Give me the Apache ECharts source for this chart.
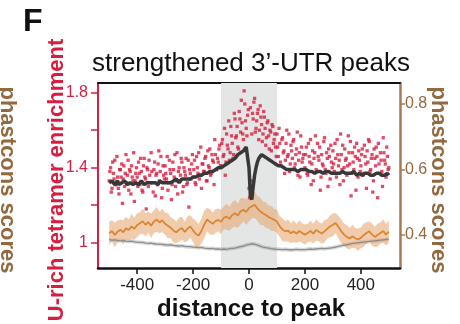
<!DOCTYPE html>
<html lang="en">
<head>
<meta charset="UTF-8">
<title>strengthened 3'-UTR peaks</title>
<style>
    html, body { margin: 0; padding: 0; background: #fff; }
    #main { width: 460px; height: 324px; }
</style>
</head>
<body>
<div id="main"></div>
<script src="https://cdn.jsdelivr.net/npm/echarts@6/dist/echarts.min.js"></script>
<script>
    // ticks and labels
    const xTicks = [-400, -200, 0, 200, 400]
    const leftTicks = [1, 1.2, 1.4, 1.6, 1.8]
    const leftLabels = [1, 1.4, 1.8]
    const rightTicks = [0.4, 0.6, 0.8]
    const shadeRange = [-100, 100]

    // U-rich tetramer enrichment, red dots, every 5 nt from -500 (redA) and from -497.5 (redB)
    const redA = [
        1.33,1.40,1.29,1.37,1.44,1.31,1.35,1.26,1.39,1.42,1.34,1.30,1.47,1.36,1.28,1.38,1.41,1.33,1.22,1.37,
        1.35,1.43,1.31,1.38,1.27,1.45,1.34,1.40,1.30,1.36,1.48,1.32,1.39,1.25,1.37,1.42,1.33,1.46,1.29,1.36,
        1.41,1.34,1.28,1.44,1.37,1.31,1.39,1.47,1.33,1.26,1.40,1.36,1.43,1.30,1.38,1.45,1.32,1.19,1.37,1.42,
        1.35,1.44,1.31,1.40,1.48,1.36,1.29,1.42,1.38,1.46,1.33,1.41,1.50,1.37,1.44,1.31,1.47,1.39,1.43,1.52,
        1.41,1.55,1.47,1.36,1.58,1.50,1.44,1.62,1.53,1.47,1.66,1.57,1.51,1.70,1.59,1.64,1.55,1.74,1.61,1.68,
        1.29,1.72,1.58,1.66,1.77,1.61,1.69,1.55,1.73,1.63,1.58,1.67,1.52,1.64,1.57,1.60,1.49,1.62,1.55,1.51,
        1.58,1.46,1.53,1.41,1.56,1.49,1.44,1.60,1.47,1.38,1.52,1.45,1.55,1.42,1.50,1.36,1.48,1.57,1.43,1.47,
        1.40,1.51,1.36,1.46,1.55,1.42,1.33,1.48,1.39,1.53,1.44,1.28,1.47,1.41,1.56,1.37,1.45,1.50,1.34,1.43,
        1.49,1.38,1.45,1.55,1.41,1.31,1.47,1.52,1.40,1.44,1.36,1.57,1.42,1.25,1.48,1.39,1.46,1.53,1.35,1.44,
        1.41,1.50,1.37,1.46,1.29,1.43,1.54,1.39,1.47,1.33,1.45,1.51,1.24,1.42,1.48,1.38,1.56,1.44,1.35,1.46,
        1.40
    ]
    const redB = [
        1.38,1.27,1.43,1.34,1.31,1.46,1.29,1.39,1.35,1.21,1.41,1.37,1.32,1.44,1.39,1.26,1.35,1.48,1.33,1.40,
        1.30,1.37,1.45,1.28,1.41,1.35,1.18,1.39,1.44,1.32,1.38,1.27,1.43,1.36,1.31,1.49,1.38,1.24,1.41,1.34,
        1.37,1.46,1.32,1.39,1.23,1.43,1.35,1.30,1.48,1.38,1.33,1.45,1.27,1.40,1.36,1.31,1.44,1.39,1.34,1.47,
        1.39,1.32,1.46,1.37,1.34,1.51,1.42,1.38,1.45,1.33,1.49,1.40,1.36,1.47,1.43,1.55,1.39,1.45,1.50,1.41,
        1.53,1.46,1.61,1.43,1.52,1.65,1.48,1.57,1.45,1.69,1.56,1.62,1.50,1.66,1.76,1.58,1.81,1.65,1.57,1.71,
        1.24,1.33,1.69,1.75,1.59,1.65,1.71,1.60,1.67,1.54,1.70,1.61,1.56,1.65,1.50,1.59,1.63,1.53,1.58,1.46,
        1.51,1.61,1.43,1.55,1.48,1.37,1.53,1.46,1.58,1.42,1.49,1.54,1.40,1.47,1.59,1.44,1.35,1.51,1.45,1.39,
        1.47,1.37,1.53,1.43,1.31,1.49,1.45,1.57,1.38,1.46,1.51,1.35,1.42,1.54,1.39,1.48,1.30,1.46,1.52,1.40,
        1.42,1.53,1.35,1.47,1.44,1.58,1.39,1.33,1.50,1.45,1.41,1.48,1.54,1.37,1.43,1.51,1.28,1.45,1.49,1.38,
        1.47,1.36,1.52,1.42,1.49,1.55,1.38,1.45,1.27,1.50,1.41,1.46,1.53,1.37,1.44,1.30,1.48,1.42,1.51,1.39
    ]
    // dark trace, every 5 nt from -500
    const blackDots = [
        1.32,1.31,1.33,1.32,1.31,1.32,1.33,1.31,1.32,1.32,1.31,1.33,1.32,1.31,1.32,1.32,1.33,1.31,1.32,1.32,
        1.32,1.31,1.32,1.33,1.32,1.31,1.32,1.32,1.33,1.32,1.31,1.32,1.33,1.32,1.32,1.31,1.33,1.32,1.32,1.33,
        1.32,1.33,1.32,1.33,1.32,1.33,1.33,1.32,1.34,1.33,1.32,1.33,1.34,1.33,1.34,1.33,1.34,1.35,1.34,1.34,
        1.35,1.34,1.35,1.35,1.36,1.35,1.36,1.36,1.37,1.36,1.37,1.37,1.38,1.37,1.38,1.38,1.39,1.39,1.40,1.40,
        1.40,1.41,1.41,1.42,1.42,1.43,1.43,1.44,1.44,1.45,1.45,1.46,1.47,1.47,1.48,1.48,1.49,1.50,1.51,1.52,
        1.40,1.25,1.23,1.30,1.36,1.40,1.43,1.45,1.46,1.47,1.47,1.46,1.46,1.45,1.45,1.44,1.44,1.43,1.43,1.42,
        1.42,1.41,1.41,1.41,1.40,1.40,1.40,1.39,1.40,1.39,1.39,1.39,1.40,1.39,1.39,1.38,1.39,1.39,1.38,1.39,
        1.38,1.39,1.38,1.38,1.39,1.38,1.38,1.37,1.38,1.38,1.39,1.38,1.38,1.37,1.38,1.38,1.37,1.38,1.38,1.37,
        1.38,1.37,1.38,1.37,1.38,1.37,1.37,1.38,1.37,1.37,1.38,1.37,1.36,1.37,1.37,1.38,1.37,1.36,1.37,1.37,
        1.37,1.36,1.37,1.37,1.36,1.37,1.37,1.36,1.37,1.36,1.36,1.37,1.36,1.37,1.36,1.36,1.37,1.36,1.36,1.37,
        1.36
    ]

    // phastcons scores, every 10 nt from -500
    const orangeMean = [
        0.405,0.412,0.400,0.410,0.416,0.408,0.420,0.415,0.426,0.419,
        0.430,0.436,0.442,0.431,0.439,0.428,0.441,0.447,0.438,0.445,
        0.434,0.428,0.422,0.413,0.408,0.416,0.421,0.409,0.419,0.426,
        0.414,0.403,0.398,0.412,0.432,0.447,0.440,0.434,0.442,0.446,
        0.440,0.452,0.456,0.449,0.461,0.466,0.459,0.472,0.477,0.470,
        0.482,0.487,0.492,0.481,0.472,0.466,0.461,0.455,0.450,0.446,
        0.441,0.426,0.416,0.411,0.413,0.405,0.411,0.404,0.412,0.406,
        0.401,0.406,0.412,0.404,0.415,0.410,0.404,0.411,0.419,0.426,
        0.431,0.436,0.424,0.411,0.401,0.394,0.389,0.396,0.390,0.386,
        0.391,0.399,0.406,0.411,0.401,0.394,0.400,0.406,0.412,0.401,
        0.410
    ]
    const orangeHalf = [
        0.036,0.033,0.038,0.034,0.031,0.037,0.035,0.032,0.038,0.034,
        0.036,0.033,0.039,0.035,0.032,0.037,0.034,0.038,0.033,0.036,
        0.034,0.038,0.032,0.036,0.033,0.037,0.035,0.031,0.038,0.034,
        0.036,0.040,0.035,0.038,0.042,0.036,0.039,0.034,0.037,0.035,
        0.038,0.035,0.040,0.036,0.039,0.041,0.037,0.040,0.036,0.039,
        0.041,0.037,0.040,0.038,0.042,0.036,0.039,0.035,0.038,0.034,
        0.036,0.032,0.035,0.031,0.034,0.030,0.033,0.029,0.032,0.030,
        0.031,0.028,0.032,0.030,0.033,0.029,0.031,0.034,0.030,0.033,
        0.035,0.031,0.034,0.037,0.033,0.036,0.032,0.035,0.031,0.034,
        0.032,0.036,0.033,0.030,0.034,0.031,0.035,0.032,0.036,0.033,
        0.034
    ]
    const grayMean = [
        0.386,0.384,0.385,0.383,0.382,0.383,0.381,0.380,0.381,0.379,
        0.378,0.377,0.377,0.375,0.374,0.375,0.373,0.372,0.372,0.371,
        0.370,0.369,0.370,0.368,0.367,0.366,0.367,0.365,0.364,0.364,
        0.363,0.362,0.361,0.362,0.360,0.359,0.358,0.359,0.357,0.357,
        0.356,0.357,0.356,0.358,0.359,0.360,0.362,0.364,0.366,0.369,
        0.371,0.373,0.372,0.369,0.366,0.363,0.361,0.360,0.358,0.357,
        0.356,0.356,0.355,0.356,0.355,0.354,0.355,0.356,0.355,0.355,
        0.355,0.356,0.357,0.356,0.357,0.358,0.359,0.358,0.359,0.360,
        0.361,0.363,0.365,0.367,0.369,0.370,0.372,0.374,0.375,0.376,
        0.377,0.378,0.379,0.380,0.381,0.382,0.383,0.384,0.385,0.386,
        0.387
    ]
    const grayHalf = 0.006

    const RED = '#d81e3f'
    const BROWN = '#a57d52'
    const BROWN_TEXT = '#93693f'
    const FONT = '"Liberation Sans", Arial, Helvetica, sans-serif'

    // pair values with their position along the x axis
    function atStep(start, step, values) {
        return values.map((v, i) => [start + step * i, v])
    }

    const redPoints = atStep(-500, 5, redA).concat(atStep(-497.5, 5, redB))
    const blackPoints = atStep(-500, 5, blackDots)
    const orangeLine = atStep(-500, 10, orangeMean)
    const orangeLo = atStep(-500, 10, orangeMean.map((v, i) => v - orangeHalf[i]))
    const orangeHi = atStep(-500, 10, orangeMean.map((v, i) => v + orangeHalf[i]))
    const grayLine = atStep(-500, 10, grayMean)
    const grayLo = atStep(-500, 10, grayMean.map(v => v - grayHalf))
    const grayHi = atStep(-500, 10, grayMean.map(v => v + grayHalf))

    // filled band between two curves, drawn through the axes
    function band(lower, upper, fill) {
        return {
            type: 'custom',
            yAxisIndex: 1,
            silent: true,
            z: 3,
            data: [[0, 0.4]],
            renderItem: function (params, api) {
                let pts = upper.map(p => api.coord(p))
                for (let i = lower.length - 1; i >= 0; i--) {
                    pts.push(api.coord(lower[i]))
                }
                return {type: 'polygon', shape: {points: pts}, style: {fill: fill}}
            }
        }
    }

    let chart = echarts.init(document.getElementById('main'))
    let option = {
        animation: false,
        grid: {left: 98, right: 60, top: 83, bottom: 56},
        graphic: [
            {type: 'text', x: 23, y: 22,
                style: {text: 'F', font: 'bold 32px ' + FONT, fill: '#111', align: 'left', verticalAlign: 'middle'}},
            {type: 'text', x: 251, y: 64,
                style: {text: 'strengthened 3’-UTR peaks', font: '26px ' + FONT, fill: '#111', align: 'center', verticalAlign: 'middle'}},
            {type: 'text', x: 251, y: 309,
                style: {text: 'distance to peak', font: 'bold 24px ' + FONT, fill: '#111', align: 'center', verticalAlign: 'middle'}},
            {type: 'text', x: 57, y: 180, rotation: Math.PI / 2,
                style: {text: 'U-rich tetramer enrichment', font: 'bold 22px ' + FONT, fill: RED, align: 'center', verticalAlign: 'middle'}},
            {type: 'text', x: 438, y: 180, rotation: -Math.PI / 2,
                style: {text: 'phastcons scores', font: 'bold 22px ' + FONT, fill: BROWN_TEXT, align: 'center', verticalAlign: 'middle'}},
            {type: 'text', x: 7, y: 180, rotation: -Math.PI / 2,
                style: {text: 'phastcons scores', font: 'bold 22px ' + FONT, fill: BROWN_TEXT, align: 'center', verticalAlign: 'middle'}}
        ],
        xAxis: [
            {
                type: 'value', min: -540, max: 540, position: 'bottom',
                axisLine: {onZero: false, lineStyle: {color: '#111', width: 2.5}},
                axisTick: {customValues: xTicks, length: 6, lineStyle: {color: '#111', width: 1.5}},
                axisLabel: {customValues: xTicks, fontSize: 17, color: '#222', margin: 9, fontFamily: FONT},
                splitLine: {show: false}
            },
            {
                type: 'value', min: -540, max: 540, position: 'top',
                axisLine: {onZero: false, lineStyle: {color: '#111', width: 2}},
                axisTick: {show: false}, axisLabel: {show: false}, splitLine: {show: false}
            }
        ],
        yAxis: [
            {
                type: 'value', min: 0.865, max: 1.852, position: 'left',
                axisLine: {show: true, onZero: false, lineStyle: {color: RED, width: 2}},
                axisTick: {show: true, customValues: leftTicks, length: 7, lineStyle: {color: RED, width: 1.5}},
                axisLabel: {customValues: leftLabels, fontSize: 16, color: RED, margin: 10, fontFamily: FONT,
                    formatter: v => v === 1 ? '1' : v.toFixed(1)},
                splitLine: {show: false}
            },
            {
                type: 'value', min: 0.299, max: 0.864, position: 'right',
                axisLine: {show: true, onZero: false, lineStyle: {color: BROWN, width: 2.5}},
                axisTick: {show: true, customValues: rightTicks, length: 5, lineStyle: {color: BROWN, width: 1.5}},
                axisLabel: {customValues: rightTicks, fontSize: 16, color: BROWN_TEXT, margin: 5, fontFamily: FONT,
                    formatter: v => v.toFixed(1)},
                splitLine: {show: false}
            }
        ],
        series: [
            band(grayLo, grayHi, 'rgba(150,150,150,0.35)'),
            band(orangeLo, orangeHi, 'rgba(228,163,104,0.55)'),
            {
                type: 'line', yAxisIndex: 1, data: grayLine, showSymbol: false, z: 4,
                lineStyle: {color: '#8c8c8c', width: 1.3},
                markArea: {
                    silent: true,
                    itemStyle: {color: '#e4e6e6'},
                    data: [[{xAxis: shadeRange[0]}, {xAxis: shadeRange[1]}]]
                }
            },
            {
                type: 'line', yAxisIndex: 1, data: orangeLine, showSymbol: false, z: 4,
                lineStyle: {color: '#dc8634', width: 1.8}
            },
            {
                type: 'scatter', yAxisIndex: 0, data: redPoints, z: 5,
                symbol: 'rect', symbolSize: 3.3, itemStyle: {color: RED}
            },
            {
                type: 'line', yAxisIndex: 0, data: blackPoints, showSymbol: false, z: 6,
                lineStyle: {color: '#383838', width: 3.5}
            }
        ]
    }
    chart.setOption(option)
</script>
</body>
</html>
